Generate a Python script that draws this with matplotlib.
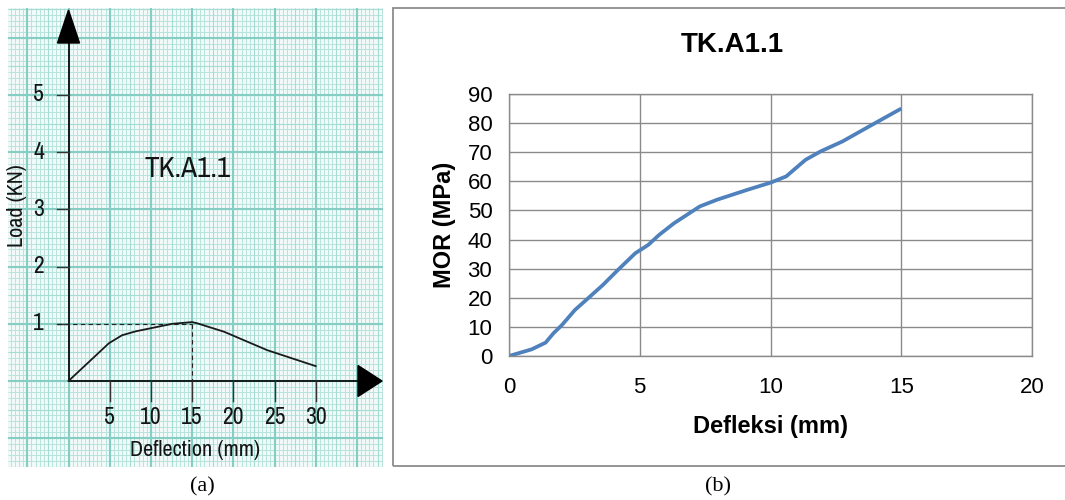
import numpy as np
import matplotlib.pyplot as plt
from matplotlib.patches import Polygon, Rectangle

# (a) load-deflection trace on graph paper
load_defl = [0, 4.9, 6.5, 8.2, 9.9, 12.6, 15.0, 15.6, 18.9, 24.1, 30.0]
load_kn = [0, 0.66, 0.80, 0.87, 0.92, 1.00, 1.03, 1.01, 0.86, 0.54, 0.26]
peak_defl = 15
peak_load = 1.0
load_xticks = [5, 10, 15, 20, 25, 30]
load_yticks = [1, 2, 3, 4, 5]

# (b) MOR vs deflection
mor_defl = [0, 0.87, 1.40, 1.70, 2.03, 2.52, 3.02, 3.59, 4.17, 4.83, 5.33, 5.74,
            6.31, 7.30, 7.96, 9.12, 10.02, 10.60, 11.34, 11.92, 12.75, 13.90, 15.0]
mor_mpa = [0, 2.3, 4.6, 7.8, 10.7, 15.8, 19.8, 24.4, 29.6, 35.3, 38.2, 41.6,
           45.6, 51.4, 53.7, 57.1, 59.6, 61.7, 67.4, 70.3, 73.7, 79.5, 85.0]
mor_xticks = [0, 5, 10, 15, 20]
mor_yticks = [0, 10, 20, 30, 40, 50, 60, 70, 80, 90]

W, H = 1065, 500
fig = plt.figure(figsize=(W / 100, H / 100), dpi=100)
fig.patch.set_facecolor("white")

narrow = ["Archivo Narrow", "PT Sans Narrow", "DejaVu Sans"]
arial = ["Liberation Sans", "DejaVu Sans"]
serif = ["Liberation Serif", "DejaVu Serif"]
ink = "#141414"

# ---------------- panel (a) ----------------
ax = fig.add_axes([8 / W, 1 - 467 / H, 375 / W, 459 / H])
px_mm, px_kn = 8.24, 57.2          # paper scale in pixels
x0, y0 = 68.5, 381.0
ax.set_xlim((8 - x0) / px_mm, (383 - x0) / px_mm)
ax.set_ylim((y0 - 467) / px_kn, (y0 - 8) / px_kn)
ax.set_facecolor("#f1faf9")
for s in ax.spines.values():
    s.set_visible(False)
ax.set_xticks([])
ax.set_yticks([])

xl, xr = ax.get_xlim()
yb, yt = ax.get_ylim()
ax.vlines(np.arange(-10, 40.01, 0.5), yb, yt, color="#b8e4de", lw=0.7, zorder=1)
ax.hlines(np.arange(-2, 7.01, 0.1), xl, xr, color="#b8e4de", lw=0.7, zorder=1)
ax.vlines(np.arange(-10, 40.01, 2.5), yb, yt, color="#a5dcd4", lw=0.8, zorder=1)
ax.hlines(np.arange(-2, 7.01, 0.5), xl, xr, color="#a5dcd4", lw=0.8, zorder=1)
ax.vlines(np.arange(-10, 40.01, 5), yb, yt, color="#86cdc4", lw=1.5, zorder=1)
ax.hlines(np.arange(-2, 7.01, 1), xl, xr, color="#86cdc4", lw=1.5, zorder=1)

# axes with arrow heads
ax.plot([0, 0], [0, (y0 - 43) / px_kn], color="black", lw=1.2, zorder=3)
ax.plot([0, (358 - x0) / px_mm], [0, 0], color="black", lw=1.2, zorder=3)
ax.add_patch(Polygon([(-11 / px_mm, (y0 - 43) / px_kn), (11 / px_mm, (y0 - 43) / px_kn),
                      (0, (y0 - 10) / px_kn)], closed=True, color="black", zorder=4))
ax.add_patch(Polygon([((358 - x0) / px_mm, 15.5 / px_kn), ((358 - x0) / px_mm, -15.5 / px_kn),
                      ((382 - x0) / px_mm, 0)], closed=True, color="black", zorder=4))

for v in load_yticks:
    ax.plot([-12 / px_mm, 0], [v, v], color="#333333", lw=1.0, zorder=3)
    ax.text(-30 / px_mm, v, str(v), ha="center", va="center", fontsize=17,
            family=narrow, color=ink, zorder=5)
for v in load_xticks:
    ax.plot([v, v], [0, -20 / px_kn], color="#333333", lw=1.0, zorder=3)
    ax.text(v, -37 / px_kn, str(v), ha="center", va="center", fontsize=17,
            family=narrow, color=ink, zorder=5)

ax.plot([-12 / px_mm, peak_defl], [peak_load, peak_load], color="#222222",
        lw=0.8, ls=(0, (4, 3)), zorder=3)
ax.plot([peak_defl, peak_defl], [peak_load, 0], color="#222222",
        lw=0.8, ls=(0, (4, 3)), zorder=3)
ax.plot(load_defl, load_kn, color="#1a1a1a", lw=1.3, zorder=4)

ax.text(15.35, -69 / px_kn, "Deflection (mm)", ha="center", va="center",
        fontsize=16, family=narrow, color=ink, zorder=5)
ax.text(-51.5 / px_mm, 3.06, "Load (KN)", ha="center", va="center", rotation=90,
        fontsize=16, family=narrow, color=ink, zorder=5)
ax.text(14.5, 3.72, "TK.A1.1", ha="center", va="center", fontsize=21,
        family=narrow, color=ink, zorder=5)

# ---------------- panel (b) ----------------
fig.patches.append(Rectangle((393 / W, 1 - 466 / H), (1080 - 393) / W, 458 / H,
                             transform=fig.transFigure, fill=False,
                             edgecolor="#8c8c8c", lw=1.3))

bx = fig.add_axes([509 / W, 1 - 356 / H, (1032 - 509) / W, (356 - 94) / H])
bx.set_xlim(0, 20)
bx.set_ylim(0, 90)
bx.set_xticks(mor_xticks)
bx.set_yticks(mor_yticks)
bx.grid(True, color="#8a8a8a", lw=1.0)
bx.set_axisbelow(True)
for s in bx.spines.values():
    s.set_color("#8a8a8a")
    s.set_linewidth(1.0)
bx.tick_params(axis="x", length=0, labelsize=16, pad=15)
bx.tick_params(axis="y", length=0, labelsize=16, pad=12)
for lab in bx.get_xticklabels() + bx.get_yticklabels():
    lab.set_family(arial)
bx.plot(mor_defl, mor_mpa, color="#4f81bd", lw=2.7, solid_capstyle="butt")

bx.set_xlabel("Defleksi (mm)", fontsize=17, fontweight="bold", family=arial, labelpad=12)
bx.set_ylabel("MOR (MPa)", fontsize=17, fontweight="bold", family=arial, labelpad=8)
fig.text(732 / W, 1 - 45 / H, "TK.A1.1", ha="center", va="center", fontsize=20,
         fontweight="bold", family=arial)

fig.text(202 / W, 1 - 487 / H, "(a)", ha="center", va="center", fontsize=16, family=serif)
fig.text(718 / W, 1 - 487 / H, "(b)", ha="center", va="center", fontsize=16, family=serif)

fig.savefig("out.png", dpi=100)
